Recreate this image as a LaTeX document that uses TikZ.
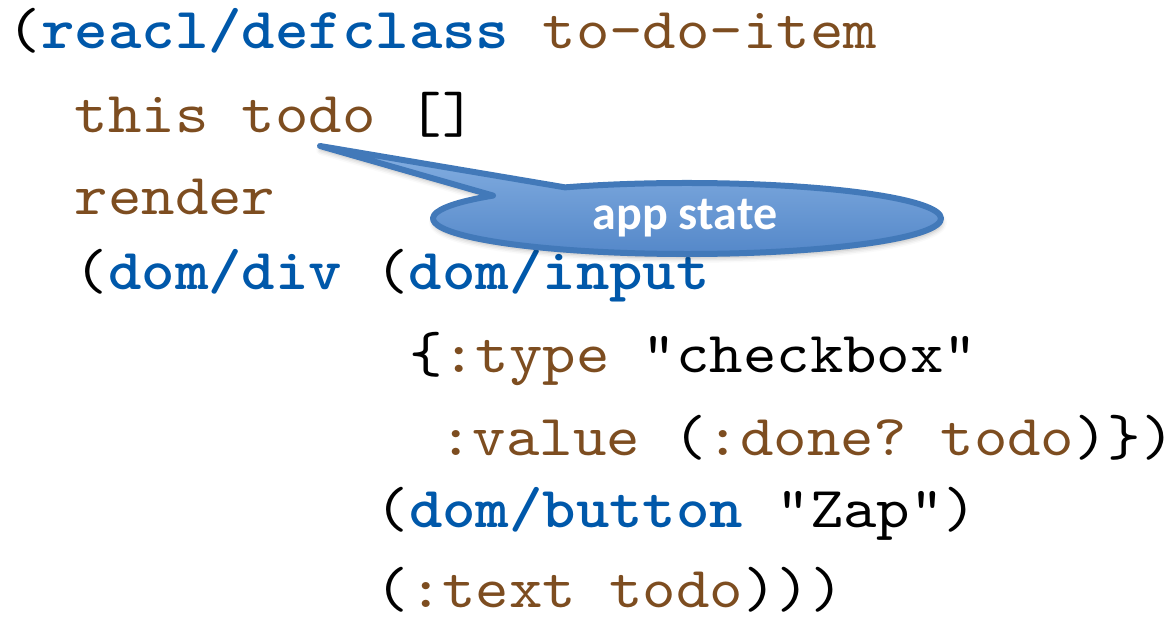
\documentclass[tikz,border=0pt]{standalone}
\usepackage{fontspec}
% typewriter face, widened so one column is 33.42 units
\setmonofont{lmmono10-regular.otf}[BoldFont=lmmonolt10-bold.otf, FakeStretch=1.0975]
\newfontfamily\calloutfont{Carlito}
\usetikzlibrary{shadows.blur,calc}

\definecolor{kwblue}{RGB}{0,88,170}
\definecolor{symbrown}{RGB}{125,77,32}
\definecolor{calloutedge}{RGB}{66,121,185}
\definecolor{callouttop}{RGB}{134,176,226}
\definecolor{calloutbottom}{RGB}{82,134,200}

\newcommand\codesize{\fontsize{58}{62}\selectfont}
\newcommand\kwtok[1]{{\bfseries\color{kwblue}#1}}
\newcommand\symtok[1]{{\color{symbrown}#1}}

\begin{document}
\begin{tikzpicture}[x=1pt,y=-1pt,
  codeline/.style={anchor=base west, inner sep=0pt, outer sep=0pt, font=\codesize\ttfamily},
  callout/.style={draw=calloutedge, line width=6pt, line join=round,
    top color=callouttop, bottom color=calloutbottom,
    blur shadow={shadow xshift=1pt, shadow yshift=-4pt, shadow blur radius=5pt, shadow opacity=30}},
  calloutlabel/.style={text=white, font=\calloutfont\bfseries\fontsize{48}{52}\selectfont, inner sep=0pt}]
\useasboundingbox (0,0) rectangle (1173,620);

% one column of the monospaced grid is 33.42 units wide, starting at x = 8
\node[codeline] (l1) at (8,49)     {(\kwtok{reacl/defclass} \symtok{to-do-item}};
\node[codeline] (l2) at (74.8,133) {\symtok{this todo} []};
\node[codeline] (l3) at (74.8,215) {\symtok{render}};
\node[codeline] (l4) at (74.8,290) {(\kwtok{dom/div} (\kwtok{dom/input}};
\node[codeline] (l5) at (409,372)  {\{\symtok{:type} "checkbox"};
\node[codeline] (l6) at (439.5,455) {\symtok{:value} (\symtok{:done? todo})\})};
\node[codeline] (l7) at (375.6,527) {(\kwtok{dom/button} "Zap")};
\node[codeline] (l8) at (375.6,607) {(\symtok{:text todo})))};

% oval callout pointing at the "todo" binding
\coordinate (bubble) at (687,218.5);
\coordinate (tip) at (320,146);
\draw[callout] (tip) -- ($(bubble)+(241.3:254 and 35.5)$)
  arc[start angle=241.3, end angle=580.2, x radius=254, y radius=35.5] -- cycle;
\node[calloutlabel] (state) at (685,218) {app state};
\end{tikzpicture}
\end{document}
